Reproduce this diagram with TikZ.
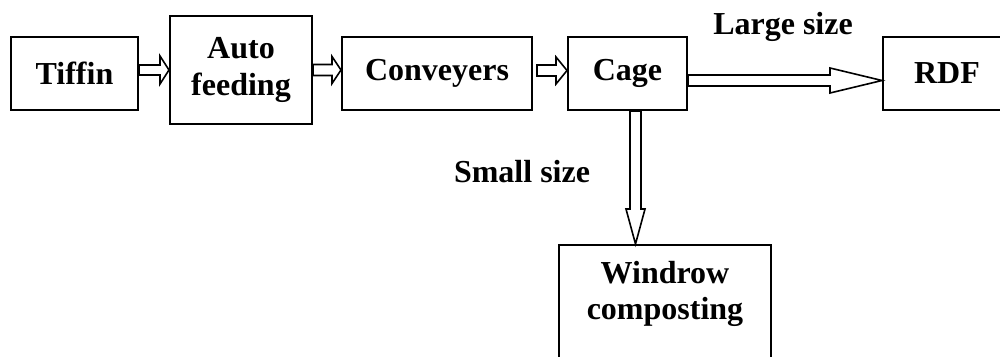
\documentclass[tikz,border=0pt]{standalone}
\usepackage{fontspec}
\setmainfont{Liberation Serif}
\usetikzlibrary{calc}
\tikzset{
  box/.style={draw, line width=2pt, rectangle, inner sep=0pt, font=\bfseries\fontsize{32}{37.5}\selectfont, align=center},
  lbl/.style={inner sep=0pt, font=\bfseries\fontsize{32}{37.5}\selectfont, align=center},
  blk/.style={draw, line width=1.6pt, fill=white, line join=miter}
}
% #1 from, #2 to, #3 y centre, #4 shaft half, #5 head half, #6 head length, #7 start gap
\newcommand\rblk[7]{%
  \draw[blk] let \p1=(#1.east), \p2=(#2.west) in
    ({\x1+#7pt},{#3pt+#4pt}) -- ({\x2-#6pt},{#3pt+#4pt}) -- ({\x2-#6pt},{#3pt+#5pt}) --
    (\x2,#3pt) -- ({\x2-#6pt},{#3pt-#5pt}) -- ({\x2-#6pt},{#3pt-#4pt}) -- ({\x1+#7pt},{#3pt-#4pt}) -- cycle;}
% #1 from, #2 to, #3 x centre, #4 shaft half, #5 head half, #6 head length
\newcommand\dblk[6]{%
  \draw[blk] let \p1=(#1.south), \p2=(#2.north) in
    ({#3pt-#4pt},\y1) -- ({#3pt-#4pt},{\y2+#6pt}) -- ({#3pt-#5pt},{\y2+#6pt}) --
    (#3pt,\y2) -- ({#3pt+#5pt},{\y2+#6pt}) -- ({#3pt+#4pt},{\y2+#6pt}) -- ({#3pt+#4pt},\y1) -- cycle;}
\begin{document}
\begin{tikzpicture}[x=1pt,y=1pt]
\clip (0,0) rectangle (1000,-356);
\fill[white] (0,0) rectangle (1000,-356);
\node[box, minimum width=127pt, minimum height=73pt] (tiffin) at (74.5,-73.5) {Tiffin};
\node[box, minimum width=142pt, minimum height=108pt] (auto) at (241,-70) {Auto\\[-1pt]feeding};
\node[box, minimum width=190pt, minimum height=73pt] (conv) at (437,-73.5) {Conveyers};
\node[box, minimum width=119pt, minimum height=73pt] (cage) at (627.5,-73.5) {Cage};
\node[box, minimum width=128pt, minimum height=73pt] (rdf) at (947,-73.5) {RDF};
\node[box, minimum width=212pt, minimum height=160pt] (windrow) at (665,-325) {};
\node[lbl] (windrowtxt) at (665,-294) {Windrow\\[-1pt]composting};
\node[lbl] (large) at (783,-27) {Large size};
\node[lbl] (small) at (522,-172) {Small size};
\rblk{tiffin}{auto}{-70}{5}{14}{9}{0}
\rblk{auto}{conv}{-70}{5.5}{13.5}{9}{0}
\rblk{conv}{cage}{-70.5}{5.5}{13.5}{11}{4}
\rblk{cage}{rdf}{-80.5}{5.5}{12.5}{52}{0}
\dblk{cage}{windrow}{635.5}{5.5}{9.5}{35}
\end{tikzpicture}
\end{document}
